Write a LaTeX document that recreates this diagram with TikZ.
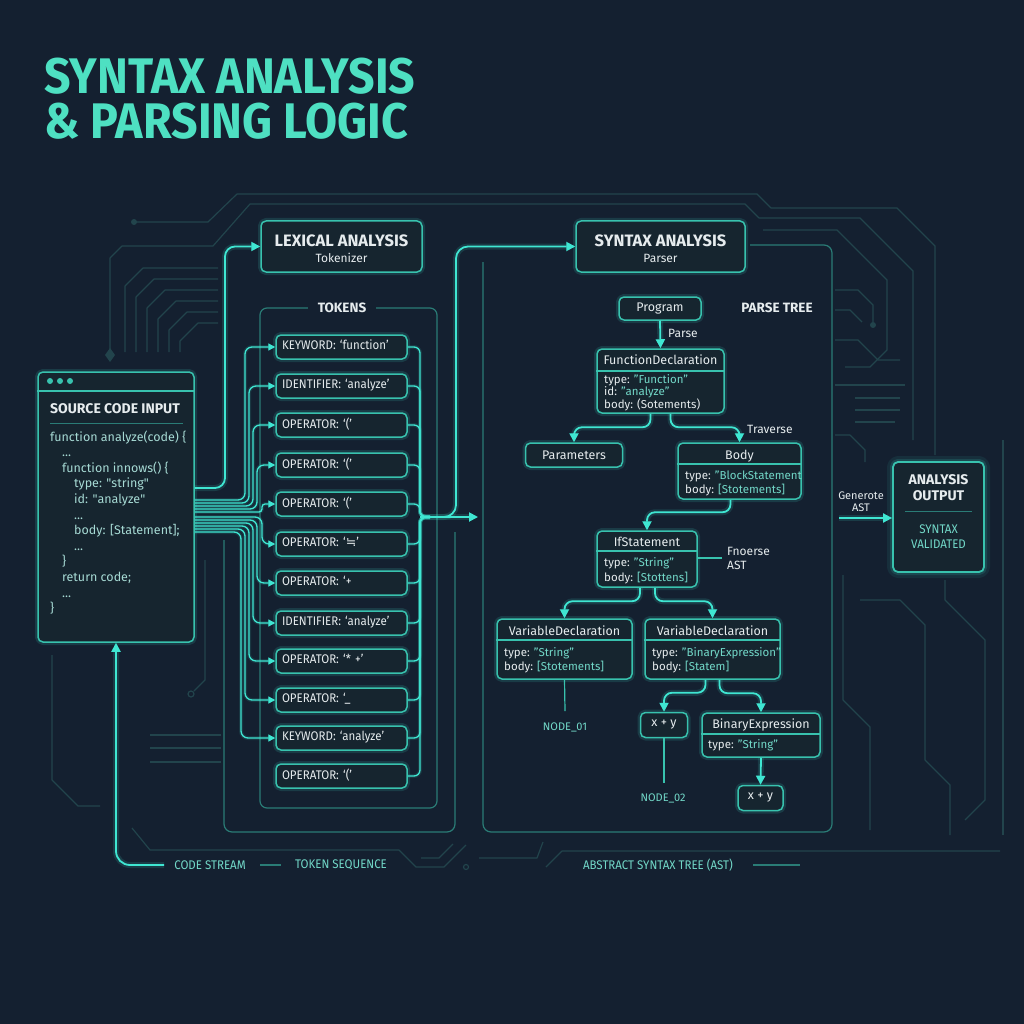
\documentclass[tikz,border=0pt]{standalone}
\usepackage{fontspec}
\setmainfont{Fira Sans}
\newfontfamily\titlefont{Fira Sans}[FakeStretch=0.93]
\newfontfamily\tokfont{Fira Sans}[FakeStretch=0.92]
\newfontfamily\symfont{DejaVu Sans}
\usetikzlibrary{arrows.meta,calc}
\definecolor{bg}{HTML}{142030}
\definecolor{acc}{HTML}{3FE6D2}
\definecolor{bord}{HTML}{38C2AE}
\definecolor{faint}{HTML}{22444C}
\definecolor{framec}{HTML}{2A7C76}
\definecolor{txt}{HTML}{E6ECEE}
\definecolor{tealt}{HTML}{72D8C8}
\definecolor{codec}{HTML}{A6DAD4}
\definecolor{boxbg}{HTML}{16252F}
\definecolor{titlec}{HTML}{4EE0C2}
\newcommand\ftitle{\titlefont\bfseries\fontsize{50}{45}\selectfont}
\newcommand\fhead{\bfseries\fontsize{16.5}{18}\selectfont}
\newcommand\fheadb{\bfseries\fontsize{13.5}{15}\selectfont}
\newcommand\fsrch{\bfseries\fontsize{14}{16}\selectfont}
\newcommand\fsub{\fontsize{12}{14}\selectfont}
\newcommand\ftok{\tokfont\fontsize{12.5}{14}\selectfont}
\newcommand\fhdr{\fontsize{12.5}{14}\selectfont}
\newcommand\fbody{\fontsize{11.5}{13}\selectfont}
\newcommand\fcode{\fontsize{12.5}{15}\selectfont}
\newcommand\flbl{\tokfont\fontsize{12.5}{14}\selectfont}
\newcommand\fsmall{\fontsize{11}{12}\selectfont}
\newcommand\kvpair[2]{\textcolor{txt}{#1}\textcolor{tealt}{#2}}
\tikzset{
  glow/.style={preaction={draw=acc,line width=6pt,opacity=0.14}},
  conn/.style={draw=acc,line width=1.8pt,rounded corners=9pt,glow},
  thinconn/.style={draw=acc,line width=1.3pt,preaction={draw=acc,line width=4pt,opacity=0.12}},
  tip/.style={-{Triangle[length=9pt,width=9pt]}},
  smalltip/.style={-{Triangle[length=7pt,width=7pt]}},
  box/.style={draw=bord,line width=1.5pt,rounded corners=5pt,fill=boxbg,glow},
  tok/.style={box,minimum width=131pt,minimum height=24pt,text width=119pt,inner xsep=6pt,inner ysep=0pt,align=left,font=\ftok,text=txt},
  frame/.style={draw=framec,line width=1.2pt},
  trace/.style={draw=faint,line width=1.2pt},
  sepl/.style={draw=bord,line width=1.2pt},
  hdr/.style={font=\fhdr,text=txt,inner sep=0pt,anchor=base},
  bl/.style={font=\fbody,text=txt,inner sep=0pt,anchor=base west},
  cl/.style={font=\fcode,text=codec,inner sep=0pt,anchor=base west},
  lbl/.style={font=\flbl,text=tealt,inner sep=0pt},
}
\begin{document}
\begin{tikzpicture}[x=1pt,y=-1pt,line join=round]
\useasboundingbox (0,0) rectangle (1024,1024);
\fill[bg] (0,0) rectangle (1024,1024);

% ---------- background circuit traces ----------
\begin{scope}[trace]
\draw (134,222) -- (208,222) -- (237,194) -- (757,194) -- (771,208) -- (897,208) -- (935,246) -- (935,455);
\draw (110,352) -- (110,258) -- (122,246) -- (213,246) -- (250,204) -- (745,204) -- (759,218) -- (860,218) -- (913,271) -- (913,440);
\draw (763,230) -- (837,230) -- (887,280) -- (887,350) -- (870,367) -- (845,367);
\foreach \i in {0,...,5}
  \draw ({125+11*\i},352) -- ({125+11*\i},{286+11*\i}) -- ({143+11*\i},{268+11*\i}) -- (218,{268+11*\i});
\draw (205,560) -- (205,680) -- (194,691);
\draw (150,735) -- (221,735);
\draw (150,748) -- (221,748);
\draw (150,762) -- (221,762);
\draw (52,655) -- (52,780) -- (78,806) -- (100,806);
\draw (132,828) -- (150,850) -- (399,850) -- (416,867) -- (444,867) -- (466,845);
\draw (421,858) -- (439,858) -- (453,844);
\draw (546,867) -- (562,851) -- (1000,851);
\draw (479,858) -- (537,858) -- (543,842);
\draw (835,290) -- (858,290) -- (873,305) -- (873,322);
\draw (835,310) -- (850,310) -- (862,322);
\draw (835,340) -- (858,340) -- (878,360) -- (900,360);
\draw (835,385) -- (905,385);
\draw (855,398) -- (900,398);
\draw (855,410) -- (900,410);
\draw (855,422) -- (895,422);
\draw (835,435) -- (850,435) -- (865,450) -- (865,462);
\draw (843,575) -- (843,700) -- (870,727) -- (870,830);
\draw (860,600) -- (900,600) -- (925,625) -- (925,760) -- (950,785) -- (950,835);
\draw (945,580) -- (945,600) -- (985,640) -- (985,800) -- (965,820);
\draw (1003,440) -- (1003,835);
\end{scope}
\fill[faint] (134,222) circle[radius=3pt];
\fill[faint] (110,348) -- (115,355) -- (110,362) -- (105,355) -- cycle;
\draw[trace] (191,694) circle[radius=3pt];
\fill[faint] (873,325) circle[radius=3pt];
\draw[trace] (466,867) circle[radius=2.5pt];

% ---------- title ----------
\node[anchor=north west,align=left,font=\ftitle,text=titlec,inner sep=0pt] (title) at (44,57.5) {SYNTAX ANALYSIS\\\&{} PARSING LOGIC};

% ---------- frames ----------
\draw[frame,rounded corners=7pt] (260,308) rectangle (437,808);
\node[fill=bg,font=\fheadb,text=txt,inner xsep=10pt] (tokl) at (342,308) {TOKENS};
\draw[frame,rounded corners=8pt] (224,540) -- (224,832) -- (455,832) -- (455,532);
\draw[frame,rounded corners=8pt] (483,262) -- (483,832) -- (832,832) -- (832,245) -- (750,245);

% ---------- source code ----------
\node[box,minimum width=156pt,minimum height=270pt] (src) at (116,507) {};
\draw[sepl] (src.west |- 0,391) -- (src.east |- 0,391);
\foreach \dx in {50,60,70} \fill[bord] (\dx,381) circle[radius=3pt];
\node[anchor=base west,font=\fsrch,text=txt,inner sep=0pt] (srch) at (50,413) {SOURCE CODE INPUT};
\draw[draw=framec,line width=1pt] (50,423) -- (183,423);
\foreach \i/\ind/\tx in {0/0/{function analyze(code) \{},1/12/{...},2/12/{function innows() \{},3/24/{type: \textquotedbl string\textquotedbl},4/24/{id: \textquotedbl analyze\textquotedbl},5/24/{...},6/24/{body: [Statement];},7/24/{...},8/12/{\}},9/12/{return code;},10/12/{...},11/0/{\}}}
  \node[cl] (code\i) at ({50+\ind},{441+15.6*\i}) {\tx};

% ---------- lexical analysis ----------
\node[box,minimum width=161pt,minimum height=51pt] (lex) at (341.5,246.5) {};
\node[font=\fhead,text=txt,inner sep=0pt,anchor=base] (lext) at (341.5,246) {LEXICAL ANALYSIS};
\node[font=\fsub,text=txt,inner sep=0pt,anchor=base] (lexs) at (341.5,262) {Tokenizer};

% ---------- tokens ----------
\foreach \n/\yy/\tx in {1/347/{KEYWORD: ‘function’},2/386/{IDENTIFIER: ‘analyze’},3/425/{OPERATOR: ‘(’},4/465/{OPERATOR: ‘(’},5/504/{OPERATOR: ‘(’},6/544/{OPERATOR: ‘{\symfont ≒}’},7/583/{OPERATOR: ‘+},8/623/{IDENTIFIER: ‘analyze’},9/661/{OPERATOR: ‘* +’},10/700/{OPERATOR: ‘\_},11/738/{KEYWORD: ‘analyze’},12/776/{OPERATOR: ‘(’}}
  \node[tok] (t\n) at (341.5,\yy) {\strut\tx};

% source -> lexical
\draw[conn,tip,rounded corners=10pt] (src.east |- 0,488) -| (225,246.5) -- (lex.west);
% source -> tokens fan
\foreach \n/\sy/\vx/\rr in {1/500/245/7,2/503/249/7,3/506/253/7,4/509/257/7,5/512/262/3,6/517/262/7,7/520/257/7,8/523/253/7,9/526/249/7,10/529/245/7,11/532/241/7}
  \draw[thinconn,smalltip,rounded corners=\rr pt] (src.east |- 0,\sy) -- (\vx,\sy) |- (t\n.west);
% tokens -> bus
\coordinate (junc) at (420,517);
\coordinate (tokout) at (478,517);
\foreach \n in {1,...,12}
  \draw[thinconn,rounded corners=6pt] (t\n.east) -| (junc) -- (430,517);
\draw[conn,tip] (junc) -- (tokout);

% ---------- syntax analysis ----------
\node[box,minimum width=169pt,minimum height=51pt] (syn) at (660.5,246.5) {};
\node[font=\fhead,text=txt,inner sep=0pt,anchor=base] (synt) at (660.5,246) {SYNTAX ANALYSIS};
\node[font=\fsub,text=txt,inner sep=0pt,anchor=base] (syns) at (660.5,262) {Parser};
\draw[conn,tip,rounded corners=12pt] (junc) -| (456,246.5) -- (syn.west);

% ---------- parse tree ----------
\node[box,minimum width=82pt,minimum height=23pt,font=\fhdr,text=txt] (prog) at (660,308.5) {Program};
\node[font=\fheadb,text=txt] (ptree) at (777,308) {PARSE TREE};

\node[box,minimum width=127pt,minimum height=64pt] (fd) at (660.5,381) {};
\node[hdr] (fdh) at (660.5,364.5) {FunctionDeclaration};
\draw[sepl] (fd.west |- 0,371) -- (fd.east |- 0,371);
\node[bl] (fd1) at (604,383) {\kvpair{type: }{"Function"}};
\node[bl] (fd2) at (604,395.5) {\kvpair{id: }{"analyze"}};
\node[bl] (fd3) at (604,408) {body: (Sotements)};
\draw[conn,tip] (prog.south) -- (fd.north);
\node[font=\fsub,text=txt,anchor=west,inner sep=0pt] (parsel) at (668,333) {Parse};

\node[box,minimum width=97pt,minimum height=24pt,font=\fhdr,text=txt] (par) at (574,455) {Parameters};

\node[box,minimum width=123pt,minimum height=56pt] (body) at (739.5,471) {};
\node[hdr] (bodyh) at (739.5,459.5) {Body};
\draw[sepl] (body.west |- 0,464) -- (body.east |- 0,464);
\node[bl] (body1) at (685,479) {\kvpair{type: }{"BlockStatement}};
\node[bl] (body2) at (685,493) {\kvpair{body: }{[Stotements]}};

\draw[conn,tip,rounded corners=8pt] ($(fd.south)+(-10,0)$) |- ($(par.north)+(0,-15)$) -- (par.north);
\draw[conn,tip,rounded corners=8pt] ($(fd.south)+(10,0)$) |- ($(body.north)+(0,-15)$) -- (body.north);
\node[font=\fsub,text=txt,anchor=west,inner sep=0pt] (travl) at (747,429) {Traverse};

\node[box,minimum width=100pt,minimum height=56pt] (ifs) at (647,559) {};
\node[hdr] (ifsh) at (647,546) {IfStatement};
\draw[sepl] (ifs.west |- 0,551) -- (ifs.east |- 0,551);
\node[bl] (ifs1) at (604,566) {\kvpair{type: }{"String"}};
\node[bl] (ifs2) at (604,581) {\kvpair{body: }{[Stottens]}};
\draw[conn,tip,rounded corners=8pt] ($(body.south)+(-9,0)$) |- ($(ifs.north)+(0,-18)$) -- (ifs.north);
\node[font=\fsub,text=txt,anchor=west,align=left,inner sep=0pt] (fnl) at (727,558) {Fnoerse\\AST};
\draw[sepl] (ifs.east |- 0,558) -- (722,558);

\node[box,minimum width=135pt,minimum height=60pt] (vdl) at (564.5,649) {};
\node[hdr] (vdlh) at (564.5,635) {VariableDeclaration};
\draw[sepl] (vdl.west |- 0,640) -- (vdl.east |- 0,640);
\node[bl] (vdl1) at (504,656) {\kvpair{type: }{"String"}};
\node[bl] (vdl2) at (504,670) {\kvpair{body: }{[Stotements]}};

\node[box,minimum width=135pt,minimum height=60pt] (vdr) at (712.5,649) {};
\node[hdr] (vdrh) at (712.5,635) {VariableDeclaration};
\draw[sepl] (vdr.west |- 0,640) -- (vdr.east |- 0,640);
\node[bl] (vdr1) at (652,656) {\kvpair{type: }{"BinaryExpression"}};
\node[bl] (vdr2) at (652,670) {\kvpair{body: }{[Statem]}};

\draw[conn,tip,rounded corners=8pt] ($(ifs.south)+(-7,0)$) |- ($(vdl.north)+(0,-17)$) -- (vdl.north);
\draw[conn,tip,rounded corners=8pt] ($(ifs.south)+(8,0)$) |- ($(vdr.north)+(0,-17)$) -- (vdr.north);

\node[lbl,font=\fsmall] (n01) at (565,727) {NODE\_01};
\draw[sepl] (vdl.south) -- (565,711);

\node[box,minimum width=47pt,minimum height=25pt,font=\fhdr,text=txt] (xy1) at (664,725) {x + y};
\node[box,minimum width=118pt,minimum height=44pt] (bin) at (761,735) {};
\node[hdr] (binh) at (761,728) {BinaryExpression};
\draw[sepl] (bin.west |- 0,734) -- (bin.east |- 0,734);
\node[bl] (bin1) at (708,748) {\kvpair{type: }{"String"}};
\draw[conn,tip,rounded corners=8pt] ($(vdr.south)+(-7,0)$) |- ($(xy1.north)+(0,-19)$) -- (xy1.north);
\draw[conn,tip,rounded corners=8pt] ($(vdr.south)+(7,0)$) |- ($(bin.north)+(0,-19)$) -- (bin.north);

\node[lbl,font=\fsmall] (n02) at (663,798) {NODE\_02};
\draw[sepl] (xy1.south) -- (664,783);
\node[box,minimum width=45pt,minimum height=25pt,font=\fhdr,text=txt] (xy2) at (760.5,798) {x + y};
\draw[conn,tip] (bin.south) -- (xy2.north);

% ---------- output ----------
\node[box,minimum width=91pt,minimum height=110pt,line width=1.8pt,preaction={draw=acc,line width=12pt,opacity=0.08}] (out) at (938.5,517) {};
\node[font=\fsrch,text=txt,inner sep=0pt,anchor=base] (out1) at (938.5,484) {ANALYSIS};
\node[font=\fsrch,text=txt,inner sep=0pt,anchor=base] (out2) at (938.5,500) {OUTPUT};
\draw[draw=framec,line width=1pt] (905,511) -- (972,511);
\node[font=\flbl,text=tealt,inner sep=0pt,anchor=base] (out3) at (938.5,533) {SYNTAX};
\node[font=\flbl,text=tealt,inner sep=0pt,anchor=base] (out4) at (938.5,548) {VALIDATED};
\node[font=\fsmall,text=txt,align=center,inner sep=0pt] (genl) at (861,502) {Generote\\AST};
\coordinate (genst) at (839,518);
\draw[conn,tip] (genst) -- (out.west |- genst);

% ---------- bottom labels ----------
\node[lbl,inner xsep=10pt] (cs) at (210,865) {CODE STREAM};
\node[lbl] (ts) at (341,865) {TOKEN SEQUENCE};
\node[lbl] (ast) at (658,865) {ABSTRACT SYNTAX TREE (AST)};
\draw[frame] (260,865) -- (281,865);
\draw[frame] (753,865) -- (800,865);
\draw[conn,tip,rounded corners=14pt] (cs.west) -| (src.south);
\end{tikzpicture}
\end{document}
